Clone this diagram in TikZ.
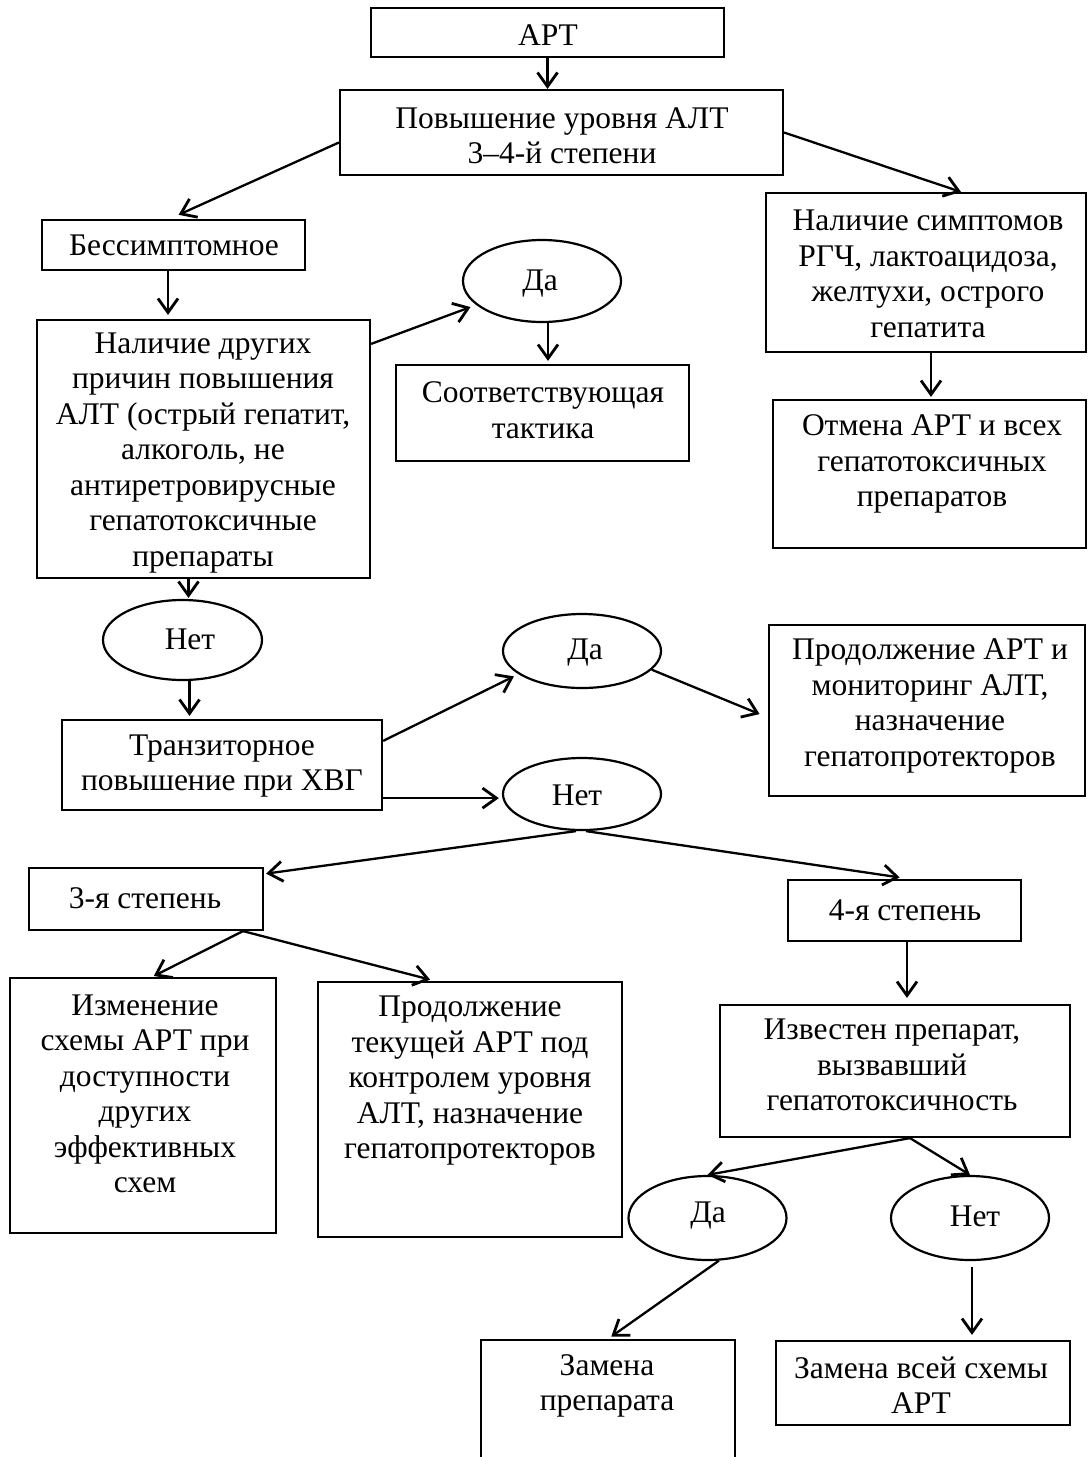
\documentclass[tikz,border=0pt]{standalone}
\usepackage{fontspec}
\setmainfont{Liberation Serif}
\usetikzlibrary{shapes.geometric,arrows.meta,calc}

\tikzset{
  box/.style={draw, rectangle, line width=2.2pt, inner sep=0pt},
  oval/.style={draw, ellipse, line width=2.2pt, inner sep=0pt},
  txt/.style={align=center, inner sep=0pt, font=\fontsize{31.5}{35.5}\selectfont},
  arr/.style={line width=2.3pt, -{Straight Barb[length=14pt,width=20pt,line width=2.8pt]}},
}

\begin{document}
\begin{tikzpicture}[x=1pt,y=-1pt]
\clip (0,0) rectangle (1088,1457);
\fill[white] (0,0) rectangle (1088,1457);

% --- boxes ---
\node[box, minimum width=353pt, minimum height=49pt] (art) at (547.5,32.5) {};
\node[txt] (artT) at (548,35) {АРТ};

\node[box, minimum width=443pt, minimum height=85pt] (pov) at (561.5,132.5) {};
\node[txt] (povT) at (562,136) {Повышение уровня АЛТ\\3–4-й степени};

\node[box, minimum width=263pt, minimum height=50pt] (bess) at (173.5,245) {};
\node[txt] (bessT) at (174,245) {Бессимптомное};

\node[box, minimum width=333pt, minimum height=258pt] (dr) at (203.5,449) {};
\node[txt] (drT) at (203,453) {Наличие других\\причин повышения\\АЛТ (острый гепатит,\\алкоголь, не\\антиретровирусные\\гепатотоксичные\\препараты};

\node[oval, minimum width=158pt, minimum height=82pt] (da1) at (542,281) {};
\node[txt] (da1T) at (540,284) {Да};

\node[box, minimum width=293pt, minimum height=96pt] (tak) at (542.5,413) {};
\node[txt] (takT) at (543,410) {Соответствующая\\тактика};

\node[box, minimum width=320pt, minimum height=159pt] (sym) at (926,272.5) {};
\node[txt] (symT) at (928,274) {Наличие симптомов\\РГЧ, лактоацидоза,\\желтухи, острого\\гепатита};

\node[box, minimum width=313pt, minimum height=148pt] (otm) at (929.5,474) {};
\node[txt] (otmT) at (932,464) {Отмена АРТ и всех\\гепатотоксичных\\препаратов};

\node[oval, minimum width=159pt, minimum height=80pt] (net1) at (182.5,640) {};
\node[txt] (net1T) at (190,639) {Нет};

\node[box, minimum width=320pt, minimum height=90pt] (tr) at (222,765) {};
\node[txt] (trT) at (222,766) {Транзиторное\\повышение при ХВГ};

\node[oval, minimum width=158pt, minimum height=74pt] (da2) at (582,651) {};
\node[txt] (da2T) at (585,653) {Да};

\node[box, minimum width=316pt, minimum height=171pt] (prod) at (927,710.5) {};
\node[txt] (prodT) at (930,706) {Продолжение АРТ и\\мониторинг АЛТ,\\назначение\\гепатопротекторов};

\node[oval, minimum width=158pt, minimum height=72pt] (net2) at (582,794) {};
\node[txt] (net2T) at (577,795) {Нет};

\node[box, minimum width=234pt, minimum height=62pt] (s3) at (146,899) {};
\node[txt] (s3T) at (145,898) {3-я степень};

\node[box, minimum width=233pt, minimum height=61pt] (s4) at (904.5,910.5) {};
\node[txt] (s4T) at (905,910) {4-я степень};

\node[box, minimum width=266pt, minimum height=255pt] (izm) at (143,1105.5) {};
\node[txt] (izmT) at (145,1094) {Изменение\\схемы АРТ при\\доступности\\других\\эффективных\\схем};

\node[box, minimum width=304pt, minimum height=255pt] (pt) at (470,1109.5) {};
\node[txt] (ptT) at (470,1081) {Продолжение\\текущей АРТ под\\контролем уровня\\АЛТ, назначение\\гепатопротекторов};

\node[box, minimum width=350pt, minimum height=132pt] (izv) at (895,1071) {};
\node[txt] (izvT) at (892,1065) {Известен препарат,\\вызвавший\\гепатотоксичность};

\node[oval, minimum width=158pt, minimum height=84pt] (da3) at (707.5,1218) {};
\node[txt] (da3T) at (708,1216) {Да};

\node[oval, minimum width=158pt, minimum height=84pt] (net3) at (970,1218) {};
\node[txt] (net3T) at (975,1216) {Нет};

\node[box, minimum width=254pt, minimum height=140pt] (zam) at (608,1410) {};
\node[txt] (zamT) at (607,1386) {Замена\\препарата};

\node[box, minimum width=294pt, minimum height=84pt] (zvs) at (923,1383) {};
\node[txt] (zvsT) at (921,1385) {Замена всей схемы\\АРТ};

% --- connectors ---
\draw[arr] (art.south) -- (art.south |- pov.north);
\draw[arr, shorten >=10pt] ([yshift=-10pt]pov.west) -- ([xshift=-4pt]bess.north);
\draw[arr] (pov.east) -- ([xshift=35pt]sym.north);
\draw[arr, shorten >=4pt] ([xshift=-5.5pt]bess.south) -- ([xshift=-5.5pt]bess.south |- dr.north);
\draw[arr, shorten >=6pt] ([yshift=-25pt]dr.north east) -- (da1.200);
\draw[arr, shorten >=3pt] ([xshift=6pt]da1.south) -- ([xshift=6pt]da1.south |- tak.north);
\draw[arr, shorten >=2pt] ([xshift=5pt]sym.south) -- ([xshift=5pt]sym.south |- otm.north);
\draw[arr, shorten >=1pt] ([xshift=-15pt]dr.south) -- ([xshift=-15pt]dr.south |- net1.north);
\draw[arr, shorten >=3pt] ([xshift=7pt]net1.south) -- ([xshift=7pt]net1.south |- tr.north);
\draw[arr, shorten >=5pt] ([yshift=-22pt]tr.north east) -- (da2.200);
\draw[arr, shorten >=3pt] ([yshift=13pt]tr.south east) -- ([yshift=13pt]tr.south east -| net2.west);
\draw[arr, shorten >=9pt] (da2.345) -- ([yshift=-7pt]prod.west);
\draw[arr, shorten >=2pt] ([xshift=-6pt]net2.south) -- ([yshift=-7pt]s3.north east);
\draw[arr, shorten >=10pt] ([xshift=4pt]net2.south) -- ([xshift=5pt]s4.north);
\draw[arr, shorten >=2pt] ([xshift=97pt]s3.south) -- ([xshift=9pt]izm.north);
\draw[arr, shorten >=5pt] ([xshift=97pt]s3.south) -- ([xshift=-35pt]pt.north);
\draw[arr, shorten >=6pt] ([xshift=2.5pt]s4.south) -- ([xshift=2.5pt]s4.south |- izv.north);
\draw[arr] ([xshift=15pt]izv.south) -- (da3.north);
\draw[arr] ([xshift=15pt]izv.south) -- (net3.north);
\draw[arr, shorten >=4pt] (da3.285) -- (zam.north);
\draw[arr, shorten <=6pt, shorten >=5pt] ([xshift=2pt]net3.south) -- ([xshift=2pt]net3.south |- zvs.north);
\end{tikzpicture}
\end{document}
